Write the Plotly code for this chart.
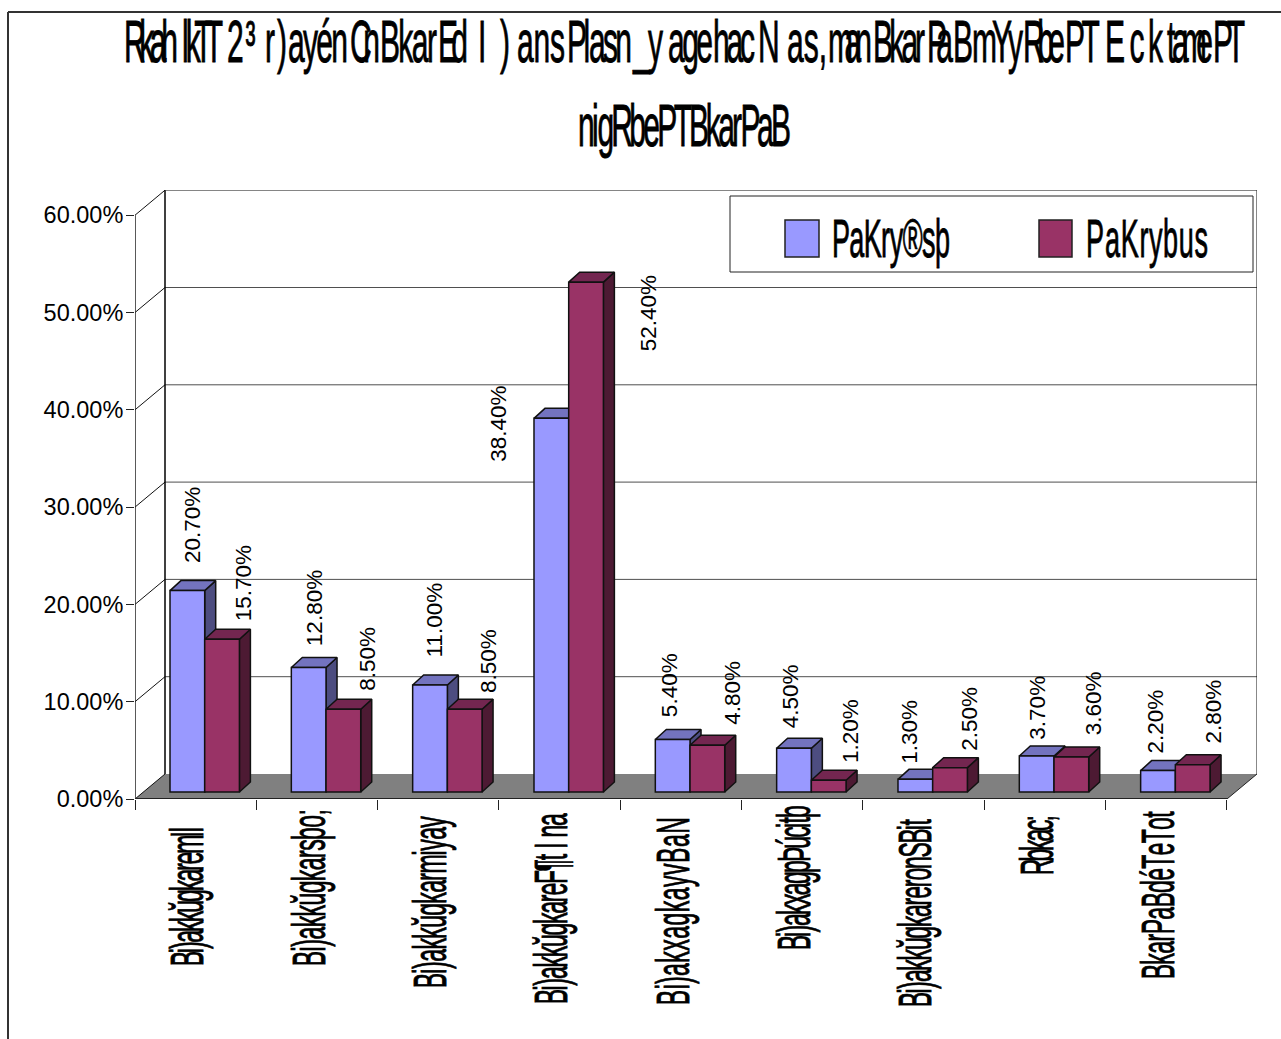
import json
import plotly.graph_objects as go

categories = ["Bi)akkŭgkaremIl", "Bi)akkŭgkarsþo;", "Bi)akkŭgkarmiyay", "Bi)akkŭgkareF¶t I na",
              "Bi)akxagkayvBaN", "Bi)akxagpÞúcitþ", "Bi)akkŭgkareronSBit", "Rbkac;", "BkarPaBdéTeTot"]
series_names = ["PaKry®sþ", "PaKrybus"]
values_a = [0.207, 0.128, 0.110, 0.384, 0.054, 0.045, 0.013, 0.037, 0.022]
values_b = [0.157, 0.085, 0.085, 0.524, 0.048, 0.012, 0.025, 0.036, 0.028]
y_ticks = [0, 0.1, 0.2, 0.3, 0.4, 0.5, 0.6]
title_parts = ["Rkah", "lkTT", "2³ ", "r)", "ayén", "Cn", "Bkar", "Ed", "I ", ")", "ans", "Plasn", "_", "y", "age",
               "hac", "N", "as,", "man", "Bkar", "Pa", "B", "mYy", "Rbe", "PT ", "Eck", "tame", "PT"]
title_line2 = "nigRbePTBkarPaB"

# layout constants (pixels in the 1281x1039 page)
W, H = 1281, 1039
L, R, T, B = 135, 1257, 190, 799
CAT = 121.33
PY = 973.0
xmax = (R - L) / CAT
ymax = (B - T) / PY
wall_dx, wall_dy = 30 / CAT, 25 / PY
bar_dx, bar_dy = 11 / CAT, 10 / PY
lift = 7 / PY
bar_w = 34.7 / CAT
bar_off = 35 / CAT

# pixel spans of the squeezed title pieces
title_spans = [(124, 178), (182, 223), (227, 265), (265, 287), (288, 348), (350, 380), (380, 437), (438, 468),
               (478, 498), (500, 512), (517, 565), (567, 632), (633, 648), (648, 667), (668, 713), (713, 755),
               (758, 787), (787, 827), (828, 872), (873, 925), (927, 953), (953, 972), (972, 1023), (1023, 1065),
               (1065, 1105), (1105, 1163), (1167, 1213), (1213, 1245)]
line2_span = (578, 791)

colors = {"a": ("#9999FF", "#7373BF", "#4D4D80"), "b": ("#993366", "#732650", "#4D1A33")}
LINE = "#111111"

label_shift_a = [(5, 26), (6, 19), (4, 25), (-53, -45), (-3, 20), (-4, 18), (-6, 14), (0, 14), (-2, 15)]
label_shift_b = [(21, 16), (24, 17), (24, 14), (62, -71), (25, 19), (22, 15), (20, 15), (23, 20), (21, 19)]

fig = go.Figure()


def line(xs, ys, color=LINE, width=1):
    fig.add_trace(go.Scatter(x=xs, y=ys, mode="lines", line=dict(color=color, width=width),
                             hoverinfo="skip", showlegend=False, cliponaxis=False))


# floor
fig.add_trace(go.Scatter(x=[0, wall_dx, xmax, 9, 0], y=[0, wall_dy, wall_dy, 0, 0], mode="lines",
                         fill="toself", fillcolor="#808080", line=dict(color="#808080", width=0),
                         hoverinfo="skip", showlegend=False, cliponaxis=False))
# wall gridlines and obliques
for t in y_ticks[1:]:
    line([wall_dx, xmax], [t + wall_dy, t + wall_dy], "#222222", 0.8)
for t in y_ticks:
    line([0, wall_dx], [t, t + wall_dy], "#111111", 1)
line([wall_dx, wall_dx], [wall_dy, 0.6 + wall_dy], "#000000", 1.5)
line([xmax, xmax], [wall_dy, 0.6 + wall_dy], "#111111", 1)
line([0, 0], [0, 0.6], "#222222", 1.5)
line([0, 9], [0, 0], "#222222", 2)
line([9, xmax], [0, wall_dy], "#222222", 1)


def faces(values, shift, key):
    _, top_c, side_c = colors[key]
    sx, sy, tx, ty = [], [], [], []
    for i, v in enumerate(values):
        xl = i + bar_off + shift
        xr = xl + bar_w
        t = lift + v
        sx += [xr, xr, xr + bar_dx, xr + bar_dx, xr, None]
        sy += [lift, t, t + bar_dy, lift + bar_dy, lift, None]
        tx += [xl, xr, xr + bar_dx, xl + bar_dx, xl, None]
        ty += [t, t, t + bar_dy, t + bar_dy, t, None]
    for xs, ys, c in ((sx, sy, side_c), (tx, ty, top_c)):
        fig.add_trace(go.Scatter(x=xs, y=ys, mode="lines", fill="toself", fillcolor=c,
                                 line=dict(color=LINE, width=1.5), hoverinfo="skip",
                                 showlegend=False, cliponaxis=False))


faces(values_a, 0, "a")
faces(values_b, bar_w, "b")

for vals, shift, key, name in ((values_a, 0, "a", series_names[0]), (values_b, bar_w, "b", series_names[1])):
    fig.add_trace(go.Bar(x=[i + bar_off + shift + bar_w / 2 for i in range(len(vals))], y=vals,
                         base=lift, width=bar_w, name=name, xaxis="x2", yaxis="y2",
                         marker=dict(color=colors[key][0], line=dict(color=LINE, width=1.5)),
                         showlegend=False))

annotations = []
for vals, shift, shifts in ((values_a, 0, label_shift_a), (values_b, bar_w, label_shift_b)):
    for i, v in enumerate(vals):
        sx, sy = shifts[i]
        annotations.append(dict(x=i + bar_off + shift + bar_w / 2, y=lift + v, xref="x2", yref="y2",
                                text=f"{v * 100:.2f}%", showarrow=False, textangle=-90,
                                xanchor="center", yanchor="bottom", xshift=sx, yshift=sy,
                                font=dict(family="Liberation Sans", size=22.5, color="black")))

# paper coordinates are relative to the plot area
px = lambda v: (v - L) / (R - L)
py = lambda v: (B - v) / (B - T)
shapes = [
    dict(type="line", xref="paper", yref="paper", x0=px(8), x1=px(W), y0=py(12), y1=py(12),
         line=dict(color="#333333", width=2)),
    dict(type="line", xref="paper", yref="paper", x0=px(8), x1=px(8), y0=py(12), y1=py(H),
         line=dict(color="#333333", width=2)),
    dict(type="rect", xref="paper", yref="paper", x0=px(730), x1=px(1253), y0=py(272), y1=py(196),
         fillcolor="white", line=dict(color="#222222", width=1)),
    dict(type="rect", xref="paper", yref="paper", x0=px(785), x1=px(819), y0=py(257), y1=py(220),
         fillcolor=colors["a"][0], line=dict(color="#222222", width=1.5)),
    dict(type="rect", xref="paper", yref="paper", x0=px(1039), x1=px(1072), y0=py(257), y1=py(220),
         fillcolor=colors["b"][0], line=dict(color="#222222", width=1.5)),
]
for name, cx in zip(series_names, (891, 1147)):
    annotations.append(dict(x=px(cx), y=py(238), xref="paper", yref="paper", text=name, showarrow=False,
                            xanchor="center", yanchor="middle",
                            font=dict(family="Liberation Sans", size=54, color="black")))

fig.update_layout(
    width=W, height=H, autosize=False, showlegend=False,
    margin=dict(l=L, r=W - R, t=T, b=H - B, pad=0),
    paper_bgcolor="white", plot_bgcolor="white", barmode="overlay",
    title=dict(text="".join(title_parts) + "<br>" + title_line2, x=684.5 / W, xanchor="center", y=1 - 62 / H,
               yanchor="top", font=dict(family="Liberation Sans", size=60, color="black"), automargin=False),
    xaxis=dict(range=[0, xmax], tickvals=list(range(10)), showticklabels=False, ticks="outside", ticklen=10,
               tickcolor="#222222", tickwidth=1, showgrid=False, zeroline=False, showline=False, automargin=False),
    yaxis=dict(range=[0, ymax], tickvals=y_ticks, tickformat=".2%", ticks="outside", ticklen=8,
               ticklabelstandoff=-2,
               tickcolor="#222222", tickwidth=1, showgrid=False, zeroline=False, showline=False, automargin=False,
               tickfont=dict(family="Liberation Sans", size=23.5, color="black")),
    xaxis2=dict(range=[0, xmax], overlaying="x", anchor="y2", tickvals=[i + 0.44 for i in range(9)],
                ticktext=categories, tickangle=-90, ticks="", ticklabelstandoff=8, showgrid=False,
                zeroline=False, showline=False, automargin=False,
                tickfont=dict(family="Liberation Sans", size=46, color="black")),
    yaxis2=dict(range=[0, ymax], overlaying="y", visible=False, automargin=False),
    shapes=shapes, annotations=annotations,
)

squeeze = dict(zip(categories, zip([139, 157, 172, 191, 188, 145, 188, 60, 163],
                                   [10, -8, -1, -4, 0, -12, 2, -2, -1])))
squeeze.update({n: (w, 0) for n, w in zip(series_names, [118, 122])})
post = """
document.body.style.margin = '0';
var gd = document.getElementById('{plot_id}');
var map = %s, parts = %s, spans = %s, span2 = %s;
var G = 0.5;
var ctx = document.createElement('canvas').getContext('2d');
function offsets(str, size, len) {
  ctx.font = size + 'px "Liberation Sans"';
  var chars = Array.from(str);
  var last = ctx.measureText(chars[chars.length - 1]).width;
  var total = ctx.measureText(str).width - last;
  var room = Math.max(len - last * G, 0);
  var out = [], cum = 0;
  chars.forEach(function (c) {
    out.push(total > 0 ? cum / total * room : 0);
    cum += ctx.measureText(c).width;
  });
  return out;
}
function heavy(el) {
  el.style.stroke = 'black';
  el.style.strokeWidth = '0.9px';
}
gd.querySelectorAll('svg text').forEach(function (t) {
  var m = map[t.textContent];
  if (!m) return;
  var X = parseFloat(t.getAttribute('x')), Y = parseFloat(t.getAttribute('y'));
  var size = parseFloat(t.style.fontSize);
  var anchor = t.style.textAnchor || t.getAttribute('text-anchor') || 'start';
  var start = anchor === 'end' ? -m[0] : (anchor === 'middle' ? -m[0] / 2 : 0);
  start -= m[1];
  var xs = offsets(t.textContent, size, m[0]).map(function (o) { return X + (start + o) / G; });
  t.setAttribute('transform', (t.getAttribute('transform') || '') +
    ' translate(' + X + ',' + Y + ') scale(' + G + ',1) translate(' + (-X) + ',' + (-Y) + ')');
  t.style.textAnchor = 'start';
  t.setAttribute('text-anchor', 'start');
  t.setAttribute('x', xs.join(' '));
  heavy(t);
});
var title = gd.querySelector('.gtitle');
var tsize = parseFloat(title.style.fontSize);
title.style.textAnchor = 'start';
title.setAttribute('text-anchor', 'start');
title.setAttribute('transform', 'scale(' + G + ',1)');
heavy(title);
var lines = title.querySelectorAll('tspan.line');
var xs1 = [];
parts.forEach(function (p, i) {
  offsets(p, tsize, spans[i][1] - spans[i][0]).forEach(function (o) { xs1.push((spans[i][0] + o) / G); });
});
lines[0].setAttribute('x', xs1.join(' '));
var xs2 = offsets(lines[1].textContent, tsize, span2[1] - span2[0]).map(function (o) { return (span2[0] + o) / G; });
lines[1].setAttribute('x', xs2.join(' '));
lines[1].setAttribute('dy', '84px');
""" % (json.dumps(squeeze), json.dumps(title_parts), json.dumps(title_spans), json.dumps(line2_span))
fig.write_html("out.html", post_script=post, config={"displayModeBar": False})
